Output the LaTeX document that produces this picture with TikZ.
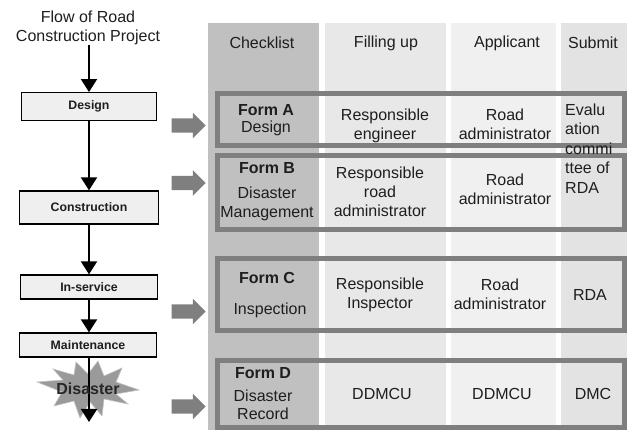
\documentclass[tikz,border=0pt]{standalone}
\usepackage{fontspec}
\setmainfont{Liberation Sans}
\usetikzlibrary{arrows.meta,shapes.arrows}
\definecolor{colchk}{HTML}{C0C0C0}
\definecolor{colfill}{HTML}{E8E8E8}
\definecolor{colapp}{HTML}{F0F0F0}
\definecolor{colsub}{HTML}{E3E3E3}
\definecolor{framec}{HTML}{7F7F7F}
\definecolor{txt}{HTML}{1E1E1E}
\definecolor{boxfill}{HTML}{EFEFEF}
\definecolor{starfill}{HTML}{9A9A9A}
\newcommand{\fsz}{\fontsize{16}{19}\selectfont}
\newcommand{\fsb}{\fontsize{12.3}{14}\selectfont\bfseries}
\tikzset{
  cell/.style={font=\fsz, align=center, inner sep=0pt, text=txt},
  boldcell/.style={font=\fsz\bfseries, inner sep=0pt, text=txt},
  stagebox/.style={draw=black, line width=1.3pt, fill=boxfill, font=\fsb, text=txt, inner sep=0pt},
  formframe/.style={draw=framec, line width=5pt},
  grayarrow/.style={single arrow, fill=framec, draw=none, minimum height=34pt, minimum width=25pt, single arrow head extend=5.5pt, single arrow head indent=0pt, inner xsep=0pt, inner ysep=7pt},
  flowarrow/.style={line width=2pt, -{Triangle[width=16pt,length=13pt]}}
}
\begin{document}
\begin{tikzpicture}[x=1pt,y=-1pt]
\useasboundingbox (0,0) rectangle (627,430);
% column backgrounds
\fill[colchk] (208,23) rectangle (319,430);
\fill[colfill] (325,23) rectangle (446,430);
\fill[colapp] (451,23) rectangle (556,430);
\fill[colsub] (561,23) rectangle (627,430);
% frames
\draw[formframe] (217,94) rectangle (624.5,146);
\draw[formframe] (217,155.5) rectangle (624.5,229.5);
\draw[formframe] (217,258.5) rectangle (624.5,330.5);
\draw[formframe] (217,360.5) rectangle (624.5,428);
% headers
\node[cell] (hchk) at (262,43) {Checklist};
\node[cell] (hfill) at (386,43) {Filling up};
\node[cell] (happ) at (507,43) {Applicant};
\node[cell] (hsub) at (593,43) {Submit};
% row A
\node[boldcell] (fat) at (266,110) {Form A};
\node[cell] (fad) at (266,128) {Design};
\node[cell] (faf) at (385,125.5) {Responsible\\engineer};
\node[cell] (faa) at (505,124.5) {Road\\administrator};
\node[cell, align=left, anchor=west, font=\fontsize{16}{19.5}\selectfont] (sab) at (565,148.5) {Evalu\\ation\\commi\\ttee of\\RDA};
% row B
\node[boldcell] (fbt) at (267,168) {Form B};
\node[cell] (fbd) at (267,203.5) {Disaster\\Management};
\node[cell] (fbf) at (380,192) {Responsible\\road\\administrator};
\node[cell] (fba) at (505,189.5) {Road\\administrator};
% row C
\node[boldcell] (fct) at (267,278) {Form C};
\node[cell] (fcd) at (270,310) {Inspection};
\node[cell] (fcf) at (380,294.5) {Responsible\\Inspector};
\node[cell] (fca) at (500,294) {Road\\administrator};
\node[cell] (fcs) at (590,295) {RDA};
% row D
\node[boldcell] (fdt) at (263,373) {Form D};
\node[cell, font=\fontsize{16}{18}\selectfont] (fdd) at (263,405) {Disaster\\Record};
\node[cell] (fdf) at (382,394) {DDMCU};
\node[cell] (fda) at (502,394) {DDMCU};
\node[cell] (fds) at (593,394) {DMC};
% gray arrows
\node[grayarrow] (ga1) at (185,125.5) {};
\node[grayarrow] (ga2) at (185,183) {};
\node[grayarrow] (ga3) at (185,311.5) {};
\node[grayarrow] (ga4) at (185,406.5) {};
% left flow
\node[cell] (title) at (88,27.5) {Flow of Road\\Construction Project};
\node[stagebox, minimum width=135pt, minimum height=28pt] (design) at (89,106.7) {Design};
\node[stagebox, minimum width=139pt, minimum height=33pt] (constr) at (89,207.5) {Construction};
\node[stagebox, minimum width=137.6pt, minimum height=24pt] (inserv) at (89,287) {In-service};
\node[stagebox, minimum width=136.7pt, minimum height=24pt] (maint) at (88,345) {Maintenance};
% disaster star
\fill[starfill, draw=starfill!60, line width=0.6pt, shift={(88,388)}]
  (-51,-6) -- (-25,-8) -- (-35,-19) -- (-14,-13) -- (-12,-26) -- (0,-14) -- (10,-27)
  -- (16,-12) -- (34,-20) -- (28,-6) -- (51,2) -- (28,6) -- (40,16) -- (16,11)
  -- (14,28) -- (2,14) -- (-8,30) -- (-14,13) -- (-34,18) -- (-26,4) -- cycle;
\coordinate (flowend) at (89,422);
\draw[flowarrow] (title.south -| design.north) -- (design.north);
\draw[flowarrow] (design.south) -- (design.south |- constr.north);
\draw[flowarrow] (constr.south) -- (constr.south |- inserv.north);
\draw[flowarrow] (inserv.south) -- (inserv.south |- maint.north);
\draw[flowarrow] (maint.south -| flowend) -- (flowend);
\node[font=\fsz\bfseries, text=black!85, inner sep=0pt] (disaster) at (88,389) {Disaster};
\end{tikzpicture}
\end{document}
